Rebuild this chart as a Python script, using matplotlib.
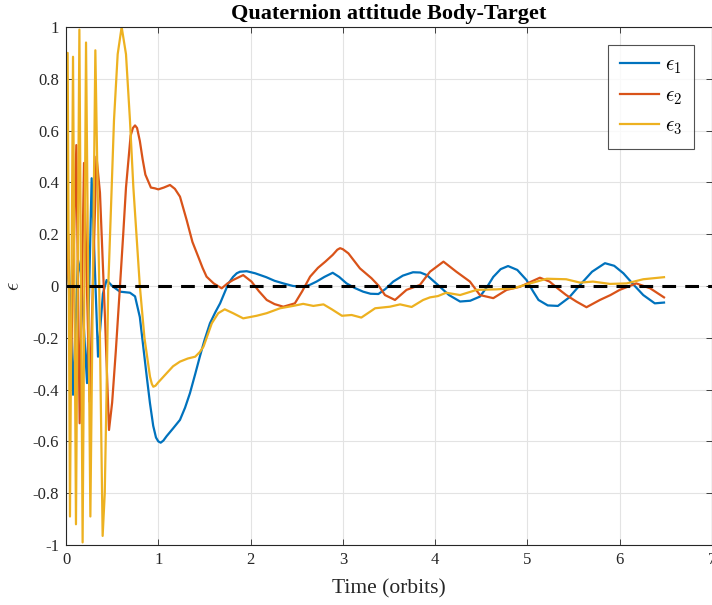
import matplotlib
matplotlib.use("Agg")
import matplotlib.pyplot as plt

plt.rcParams['font.family'] = ['Liberation Serif', 'DejaVu Serif']
plt.rcParams['mathtext.fontset'] = 'cm'
plt.rcParams['axes.unicode_minus'] = False

# Quaternion vector part, sampled in orbits
t_eps1 = [0.0, 0.03, 0.076, 0.13, 0.16, 0.228, 0.278, 0.347, 0.40, 0.44, 0.50, 0.585,
          0.693, 0.748, 0.80, 0.837, 0.875, 0.91, 0.945, 0.975, 1.0, 1.026, 1.055, 1.09,
          1.16, 1.235, 1.29, 1.343, 1.40, 1.45, 1.50, 1.56, 1.62, 1.67, 1.76, 1.81,
          1.85, 1.885, 1.958, 2.05, 2.17, 2.26, 2.355, 2.46, 2.57, 2.64, 2.715, 2.80,
          2.89, 2.96, 3.04, 3.13, 3.22, 3.30, 3.385, 3.46, 3.546, 3.65, 3.76, 3.84,
          3.91, 4.03, 4.15, 4.27, 4.38, 4.485, 4.56, 4.63, 4.71, 4.79, 4.89, 4.99,
          5.06, 5.12, 5.22, 5.33, 5.45, 5.57, 5.70, 5.84, 5.94, 6.04, 6.15, 6.255,
          6.38, 6.48]
eps1 = [0.0, 0.1, -0.42, 0.1, 0.05, -0.375, 0.416, -0.273, -0.03, 0.023, 0.0, -0.022,
        -0.026, -0.04, -0.12, -0.234, -0.35, -0.453, -0.54, -0.585, -0.60, -0.605, -0.597, -0.58,
        -0.55, -0.517, -0.47, -0.414, -0.34, -0.273, -0.21, -0.144, -0.10, -0.067, 0.01, 0.035,
        0.049, 0.055, 0.057, 0.049, 0.034, 0.02, 0.01, 0.0, -0.003, 0.004, 0.017, 0.035,
        0.051, 0.035, 0.01, -0.008, -0.022, -0.03, -0.031, -0.012, 0.017, 0.04, 0.053, 0.052,
        0.042, 0.004, -0.035, -0.06, -0.057, -0.041, -0.005, 0.035, 0.065, 0.077, 0.062, 0.023,
        -0.02, -0.054, -0.075, -0.077, -0.045, 0.004, 0.055, 0.088, 0.078, 0.049, 0.005, -0.035,
        -0.067, -0.064]

t_eps2 = [0.0, 0.025, 0.047, 0.112, 0.148, 0.195, 0.256, 0.33, 0.368, 0.42, 0.466, 0.50,
          0.54, 0.585, 0.62, 0.65, 0.70, 0.725, 0.748, 0.77, 0.80, 0.83, 0.86, 0.92,
          0.964, 1.0, 1.06, 1.127, 1.18, 1.235, 1.307, 1.37, 1.433, 1.48, 1.523, 1.6,
          1.687, 1.75, 1.81, 1.92, 2.01, 2.09, 2.175, 2.26, 2.355, 2.48, 2.56, 2.645,
          2.73, 2.81, 2.89, 2.94, 2.97, 3.0, 3.06, 3.185, 3.31, 3.39, 3.456, 3.565,
          3.69, 3.835, 3.944, 4.09, 4.23, 4.377, 4.485, 4.63, 4.775, 4.92, 5.03, 5.135,
          5.24, 5.33, 5.42, 5.53, 5.64, 5.785, 5.90, 6.0, 6.18, 6.33, 6.48]
eps2 = [0.0, 0.2, -0.40, 0.544, -0.53, 0.475, -0.447, 0.5, 0.36, -0.1, -0.556, -0.45,
        -0.25, 0.0, 0.2, 0.38, 0.58, 0.61, 0.62, 0.61, 0.56, 0.49, 0.43, 0.38,
        0.377, 0.373, 0.38, 0.39, 0.375, 0.345, 0.255, 0.17, 0.113, 0.07, 0.036, 0.01,
        -0.009, 0.01, 0.023, 0.042, 0.017, -0.02, -0.054, -0.07, -0.08, -0.067, -0.02, 0.036,
        0.07, 0.094, 0.12, 0.14, 0.146, 0.142, 0.126, 0.068, 0.03, 0.0, -0.035, -0.054,
        -0.015, 0.004, 0.055, 0.094, 0.055, 0.017, -0.035, -0.047, -0.015, -0.003, 0.015, 0.032,
        0.017, -0.01, -0.035, -0.06, -0.082, -0.054, -0.035, -0.015, 0.01, -0.009, -0.044]

t_eps3 = [0.0, 0.018, 0.043, 0.076, 0.108, 0.145, 0.18, 0.217, 0.264, 0.318, 0.36, 0.397,
          0.42, 0.44, 0.458, 0.495, 0.52, 0.56, 0.603, 0.65, 0.693, 0.73, 0.8, 0.85,
          0.91, 0.93, 0.946, 0.97, 1.0, 1.09, 1.16, 1.235, 1.32, 1.40, 1.45, 1.49,
          1.58, 1.65, 1.72, 1.81, 1.92, 2.066, 2.175, 2.32, 2.46, 2.57, 2.68, 2.79,
          2.88, 2.99, 3.095, 3.2, 3.35, 3.51, 3.62, 3.745, 3.87, 3.944, 4.03, 4.12,
          4.27, 4.45, 4.665, 4.846, 5.03, 5.21, 5.42, 5.57, 5.71, 5.894, 6.075, 6.255,
          6.48]
eps3 = [0.0, 0.90, -0.89, 0.885, -0.92, 0.99, -0.99, 0.94, -0.89, 0.91, 0.0, -0.965,
        -0.8, -0.4, 0.0, 0.38, 0.64, 0.895, 1.0, 0.895, 0.64, 0.38, 0.0, -0.2,
        -0.35, -0.378, -0.389, -0.385, -0.372, -0.337, -0.31, -0.292, -0.28, -0.273, -0.255, -0.234,
        -0.144, -0.105, -0.09, -0.105, -0.125, -0.115, -0.105, -0.086, -0.077, -0.069, -0.077, -0.071,
        -0.09, -0.115, -0.112, -0.122, -0.086, -0.08, -0.071, -0.081, -0.054, -0.044, -0.039, -0.026,
        -0.035, -0.015, -0.013, -0.009, 0.01, 0.028, 0.026, 0.013, 0.017, 0.008, 0.01, 0.026,
        0.034]

x_ticks = [0, 1, 2, 3, 4, 5, 6, 7]
y_ticks = [-1, -0.8, -0.6, -0.4, -0.2, 0, 0.2, 0.4, 0.6, 0.8, 1]
series_labels = [r'$\epsilon_1$', r'$\epsilon_2$', r'$\epsilon_3$']
colors = ['#0072BD', '#D95319', '#EDB120']

fig = plt.figure(figsize=(7.12, 6.05), dpi=100)
ax = fig.add_axes([0.0927, 0.0992, 0.9073, 0.8562])

lines = []
for tt, vv, c, lab in zip([t_eps1, t_eps2, t_eps3], [eps1, eps2, eps3], colors, series_labels):
    ln, = ax.plot(tt, vv, color=c, lw=1.6, label=lab)
    lines.append(ln)

# reference level
ax.plot([0, 7], [0, 0], color='black', lw=2.2, ls=(0, (4.5, 3.0)))

ax.set_xlim(0, 7)
ax.set_ylim(-1, 1)
ax.set_xticks(x_ticks)
ax.set_yticks(y_ticks)
ax.set_xticklabels([f'{v:g}' for v in x_ticks])
ax.set_yticklabels([f'{v:g}' for v in y_ticks])
ax.grid(True, color='#e3e3e3', lw=0.8)
ax.set_axisbelow(True)
ax.tick_params(direction='in', top=True, right=True, length=4, width=0.6,
               colors='#262626', labelsize=12, pad=5)
for s in ax.spines.values():
    s.set_color('#262626')
    s.set_linewidth(0.8)

ax.set_title('Quaternion attitude Body-Target', fontsize=16, fontweight='bold', pad=6)
ax.set_xlabel('Time (orbits)', fontsize=15.5, labelpad=8, color='#262626')
ax.set_ylabel(r'$\epsilon$', fontsize=15, labelpad=6, color='#262626')

leg = ax.legend(handles=lines, loc='upper right', bbox_to_anchor=(0.972, 0.966),
                fontsize=15, frameon=True, fancybox=False, handlelength=1.9,
                borderpad=0.55, labelspacing=0.5, handletextpad=0.3,
                borderaxespad=0.0)
leg.get_frame().set_edgecolor('#262626')
leg.get_frame().set_linewidth(0.8)

fig.savefig('out.png', dpi=100)
